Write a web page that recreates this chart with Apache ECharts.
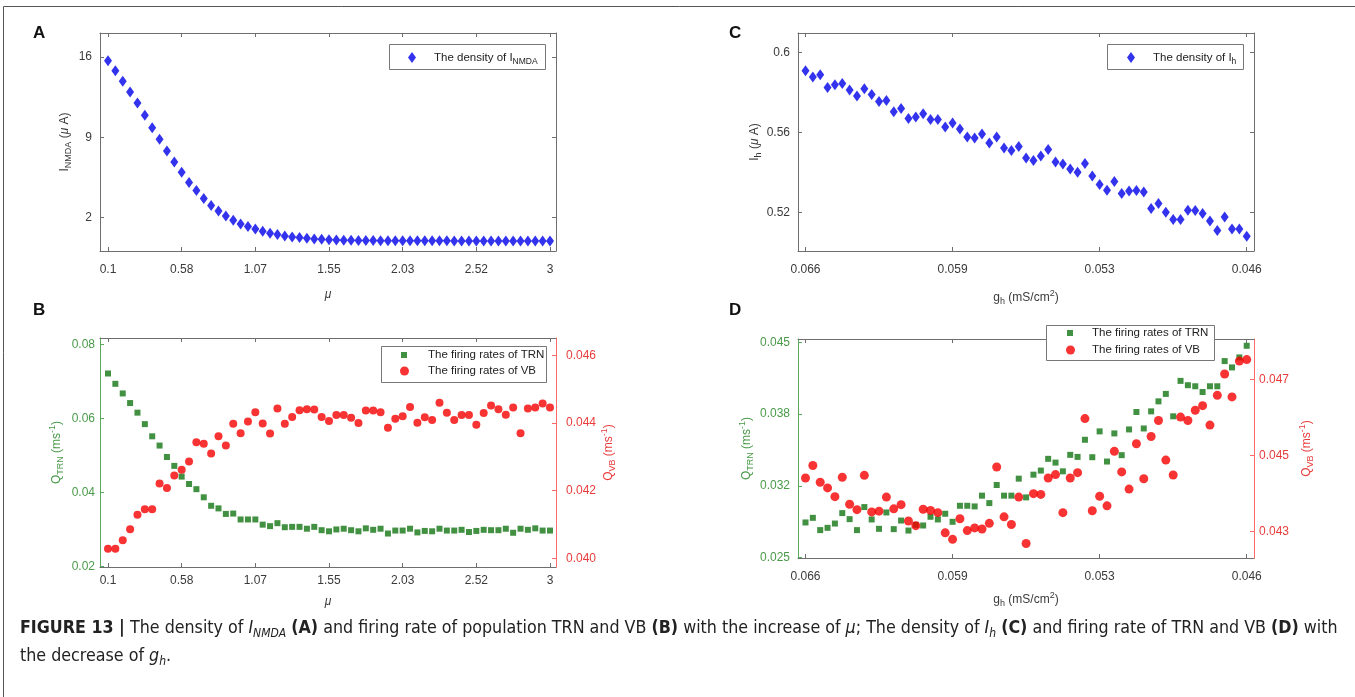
<!DOCTYPE html>
<html><head><meta charset="utf-8">
<script src="https://cdn.jsdelivr.net/npm/echarts@6/dist/echarts.min.js"></script>
<style>html,body{margin:0;padding:0;background:#fff}#c{width:1355px;height:697px}</style>
</head><body><div id="c"></div>
<script>
// ---------- DATA ----------
const mu = [0.1,0.1483,0.1967,0.245,0.2933,0.3417,0.39,0.4383,0.4867,0.535,
  0.5833,0.6317,0.68,0.7283,0.7767,0.825,0.8733,0.9217,0.97,1.0183,
  1.0667,1.115,1.1633,1.2117,1.26,1.3083,1.3567,1.405,1.4533,1.5017,
  1.55,1.5983,1.6467,1.695,1.7433,1.7917,1.84,1.8883,1.9367,1.985,
  2.0333,2.0817,2.13,2.1783,2.2267,2.275,2.3233,2.3717,2.42,2.4683,
  2.5167,2.565,2.6133,2.6617,2.71,2.7583,2.8067,2.855,2.9033,2.9517,3.0];
const muTicks = [0.1,0.5833,1.0667,1.55,2.0333,2.5167,3.0];
const muTickLabels = ['0.1','0.58','1.07','1.55','2.03','2.52','3'];

const iNMDA = [15.68,14.80,13.90,12.96,12.00,10.93,9.84,8.82,7.80,6.84,
  5.94,5.06,4.36,3.66,3.05,2.58,2.14,1.77,1.44,1.21,
  1.00,0.80,0.63,0.51,0.39,0.30,0.25,0.19,0.13,0.10,
  0.07,0.04,0.02,0.01,0.0,-0.01,-0.01,-0.02,-0.02,-0.02,
  -0.03,-0.03,-0.03,-0.03,-0.03,-0.03,-0.03,-0.04,-0.04,-0.04,
  -0.04,-0.04,-0.04,-0.04,-0.04,-0.04,-0.04,-0.04,-0.04,-0.04,-0.04];
const yTicksA = [2,9,16];
const yTickLabelsA = ['2','9','16'];

const qTRN_B = [0.0722,0.0694,0.0668,0.0642,0.0616,0.0585,0.0552,0.0527,0.0496,0.0472,
  0.0443,0.0423,0.0409,0.0387,0.0364,0.0357,0.0342,0.0343,0.0327,0.0327,
  0.0327,0.0313,0.0309,0.0317,0.0306,0.0307,0.0307,0.0302,0.0307,0.0298,
  0.0295,0.0300,0.0302,0.0298,0.0295,0.0303,0.0299,0.0302,0.0289,0.0297,
  0.0297,0.0302,0.0292,0.0296,0.0295,0.0302,0.0297,0.0297,0.0299,0.0293,
  0.0296,0.0299,0.0298,0.0298,0.0302,0.0291,0.0302,0.0299,0.0303,0.0297,0.0297];
const qVB_B = [0.04028,0.04028,0.04053,0.04086,0.04129,0.04145,0.04145,0.04221,0.04208,0.04245,
  0.04262,0.04286,0.04343,0.04339,0.04310,0.04361,0.04334,0.04398,0.04370,0.04405,
  0.04432,0.04399,0.04369,0.04443,0.04398,0.04418,0.04438,0.04441,0.04440,0.04418,
  0.04406,0.04424,0.04424,0.04416,0.04400,0.04437,0.04437,0.04432,0.04386,0.04413,
  0.04420,0.04448,0.04401,0.04417,0.04409,0.04460,0.04431,0.04409,0.04424,0.04424,
  0.04395,0.04430,0.04452,0.04441,0.04425,0.04446,0.04370,0.04443,0.04446,0.04458,0.04446];
const yTicksBL = [0.02,0.04,0.06,0.08];
const yTickLabelsBL = ['0.02','0.04','0.06','0.08'];
const yTicksBR = [0.040,0.042,0.044,0.046];
const yTickLabelsBR = ['0.040','0.042','0.044','0.046'];

const gh = [0.066,0.065667,0.065333,0.065,0.064667,0.064333,0.064,0.063667,0.063333,0.063,
  0.062667,0.062333,0.062,0.061667,0.061333,0.061,0.060667,0.060333,0.06,0.059667,
  0.059333,0.059,0.058667,0.058333,0.058,0.057667,0.057333,0.057,0.056667,0.056333,
  0.056,0.055667,0.055333,0.055,0.054667,0.054333,0.054,0.053667,0.053333,0.053,
  0.052667,0.052333,0.052,0.051667,0.051333,0.051,0.050667,0.050333,0.05,0.049667,
  0.049333,0.049,0.048667,0.048333,0.048,0.047667,0.047333,0.047,0.046667,0.046333,0.046];
const ghTicks = [0.066,0.059333,0.052667,0.046];
const ghTickLabels = ['0.066','0.059','0.053','0.046'];

const iH = [0.5908,0.5877,0.5888,0.5825,0.5838,0.5845,0.5812,0.5782,0.5818,0.5790,
  0.5755,0.5760,0.5703,0.5720,0.5670,0.5677,0.5693,0.5665,0.5665,0.5628,
  0.5648,0.5617,0.5577,0.5572,0.5592,0.5547,0.5577,0.5523,0.5510,0.5530,
  0.5472,0.5460,0.5482,0.5515,0.5452,0.5443,0.5418,0.5402,0.5445,0.5383,
  0.5340,0.5312,0.5355,0.5295,0.5308,0.5310,0.5303,0.5220,0.5245,0.5202,
  0.5165,0.5165,0.5212,0.5210,0.5195,0.5158,0.5110,0.5178,0.5118,0.5118,0.5082];
const yTicksC = [0.52,0.56,0.6];
const yTickLabelsC = ['0.52','0.56','0.6'];

const qTRN_D = [0.02827,0.02870,0.02756,0.02777,0.02817,0.02914,0.02858,0.02756,0.02970,0.02855,
  0.02768,0.02920,0.02765,0.02845,0.02752,0.02805,0.02799,0.02880,0.02855,0.02908,
  0.02833,0.02982,0.02982,0.02976,0.03076,0.03007,0.03175,0.03076,0.03076,0.03234,
  0.03060,0.03271,0.03309,0.03418,0.03383,0.03302,0.03455,0.03436,0.03595,0.03433,
  0.03673,0.03393,0.03654,0.03452,0.03691,0.03853,0.03700,0.03859,0.03952,0.04021,
  0.03813,0.04142,0.04102,0.04092,0.04039,0.04092,0.04092,0.04326,0.04267,0.04360,0.04468];
const qVB_D = [0.04441,0.04474,0.04430,0.04415,0.04392,0.04443,0.04372,0.04358,0.04448,0.04352,
  0.04354,0.04391,0.04360,0.04371,0.04328,0.04316,0.04359,0.04356,0.04350,0.04297,
  0.04280,0.04334,0.04303,0.04310,0.04307,0.04322,0.04470,0.04339,0.04319,0.04391,
  0.04269,0.04400,0.04398,0.04441,0.04450,0.04350,0.04441,0.04455,0.04597,0.04355,
  0.04393,0.04368,0.04511,0.04457,0.04412,0.04531,0.04439,0.04550,0.04592,0.04488,
  0.04449,0.04601,0.04592,0.04619,0.04631,0.04580,0.04658,0.04714,0.04654,0.04748,0.04752];
const yTicksDL = [0.025,0.031667,0.038333,0.045];
const yTickLabelsDL = ['0.025','0.032','0.038','0.045'];
const yTicksDR = [0.043,0.045,0.047];
const yTickLabelsDR = ['0.043','0.045','0.047'];

// ---------- STYLE ----------
const FONT = "'Liberation Sans', Arial, sans-serif";
const CAPFONT = "'Liberation Sans Narrow', 'DejaVu Sans Condensed', sans-serif";
const GRAY = '#6e6e6e', TXT = '#3a3a3a';
const GREEN_AX = '#5aa85a', GREEN_TX = '#4a9a4a', GREEN_MK = '#137513';
const RED_AX = '#ff6b6b', RED_TX = '#e83c3c', RED_MK = '#f50000';
const BLUE = '#0000e8';

function richSet(color) {
  return {
    m: {fontSize: 12, lineHeight: 14, color, fontFamily: FONT},
    i: {fontSize: 12, lineHeight: 14, color, fontFamily: FONT, fontStyle: 'italic'},
    s: {fontSize: 9, lineHeight: 9, padding: [8,0,0,0], color, fontFamily: FONT},
    p: {fontSize: 9, lineHeight: 9, padding: [0,0,8,0], color, fontFamily: FONT}
  };
}
function fmt(ticks, labels) {
  return v => { for (let k = 0; k < ticks.length; k++) if (Math.abs(v - ticks[k]) < 1e-6) return labels[k]; return ''; };
}
function xPair(g, min, max, ticks, labels, inv, name, gap, margin) {
  const base = {type: 'value', gridIndex: g, min, max, inverse: inv, splitLine: {show: false},
    axisLine: {onZero: false, lineStyle: {color: GRAY, width: 1}},
    axisTick: {inside: true, length: 4, customValues: ticks, lineStyle: {color: GRAY}}};
  return [
    Object.assign({}, base, {position: 'bottom',
      axisLabel: {customValues: ticks, formatter: fmt(ticks, labels), color: TXT, fontSize: 12, margin, fontFamily: FONT},
      name, nameLocation: 'middle', nameGap: gap, nameTextStyle: {rich: richSet(TXT)}}),
    Object.assign({}, base, {position: 'top', axisLabel: {show: false}})
  ];
}
function yAxisDef(g, pos, min, max, ticks, labels, lineCol, txtCol, showLabel, name, gap, margin) {
  return {type: 'value', gridIndex: g, position: pos, min, max, splitLine: {show: false},
    axisLine: {onZero: false, lineStyle: {color: lineCol, width: 1}},
    axisTick: {inside: true, length: 4, customValues: ticks, lineStyle: {color: lineCol}},
    axisLabel: showLabel ? {customValues: ticks, formatter: fmt(ticks, labels), color: txtCol, fontSize: 12, margin, fontFamily: FONT} : {show: false},
    name: name || '', nameLocation: 'middle', nameGap: gap || 0, nameTextStyle: {rich: richSet(txtCol)}};
}
const pairs = (xs, ys) => xs.map((x, k) => [x, ys[k]]);

const grids = [
  {left: 100, top: 33, width: 456, height: 218},
  {left: 100, top: 338, width: 456, height: 229},
  {left: 798, top: 33, width: 456, height: 218},
  {left: 798, top: 339, width: 456, height: 219}
];

const xAxis = [].concat(
  xPair(0, 0.0475, 3.0394, muTicks, muTickLabels, false, '{i|μ}', 37, 13),
  xPair(1, 0.0475, 3.0394, muTicks, muTickLabels, false, '{i|μ}', 28, 8),
  xPair(2, 0.04567, 0.06634, ghTicks, ghTickLabels, true, '{m|g}{s|h}{m| (mS/cm}{p|2}{m|)}', 40, 13),
  xPair(3, 0.04567, 0.06634, ghTicks, ghTickLabels, true, '{m|g}{s|h}{m| (mS/cm}{p|2}{m|)}', 35, 13)
);
const yAxis = [
  yAxisDef(0, 'left', -0.92, 18.1, yTicksA, yTickLabelsA, GRAY, TXT, true, '{m|I}{s|NMDA}{m| (}{i|μ}{m| A)}', 28, 8),
  yAxisDef(0, 'right', -0.92, 18.1, yTicksA, yTickLabelsA, GRAY, TXT, false),
  yAxisDef(1, 'left', 0.01984, 0.0818, yTicksBL, yTickLabelsBL, GREEN_AX, GREEN_TX, true, '{m|Q}{s|TRN}{m| (ms}{p|-1}{m|)}', 36, 5),
  yAxisDef(1, 'right', 0.03974, 0.04652, yTicksBR, yTickLabelsBR, RED_AX, RED_TX, true, '{m|Q}{s|VB}{m| (ms}{p|-1}{m|)}', 32, 10),
  yAxisDef(2, 'left', 0.5008, 0.6097, yTicksC, yTickLabelsC, GRAY, TXT, true, '{m|I}{s|h}{m| (}{i|μ}{m| A)}', 34, 8),
  yAxisDef(2, 'right', 0.5008, 0.6097, yTicksC, yTickLabelsC, GRAY, TXT, false),
  yAxisDef(3, 'left', 0.02497, 0.04531, yTicksDL, yTickLabelsDL, GREEN_AX, GREEN_TX, true, '{m|Q}{s|TRN}{m| (ms}{p|-1}{m|)}', 44, 8),
  yAxisDef(3, 'right', 0.04231, 0.04806, yTicksDR, yTickLabelsDR, RED_AX, RED_TX, true, '{m|Q}{s|VB}{m| (ms}{p|-1}{m|)}', 46, 5)
];

const series = [
  {name: 'A', type: 'scatter', xAxisIndex: 0, yAxisIndex: 0, symbol: 'diamond', symbolSize: [8, 11], itemStyle: {color: BLUE}, data: pairs(mu, iNMDA), z: 3},
  {name: 'TRN_B', type: 'scatter', xAxisIndex: 2, yAxisIndex: 2, symbol: 'rect', symbolSize: 6, itemStyle: {color: GREEN_MK}, data: pairs(mu, qTRN_B)},
  {name: 'VB_B', type: 'scatter', xAxisIndex: 2, yAxisIndex: 3, symbol: 'circle', symbolSize: 8, itemStyle: {color: RED_MK}, data: pairs(mu, qVB_B)},
  {name: 'C', type: 'scatter', xAxisIndex: 4, yAxisIndex: 4, symbol: 'diamond', symbolSize: [8, 11], itemStyle: {color: BLUE}, data: pairs(gh, iH)},
  {name: 'TRN_D', type: 'scatter', xAxisIndex: 6, yAxisIndex: 6, symbol: 'rect', symbolSize: 6, itemStyle: {color: GREEN_MK}, data: pairs(gh, qTRN_D)},
  {name: 'VB_D', type: 'scatter', xAxisIndex: 6, yAxisIndex: 7, symbol: 'circle', symbolSize: 9, itemStyle: {color: RED_MK}, data: pairs(gh, qVB_D)}
];
series.forEach(s => { s.emphasis = {disabled: true}; s.animation = false; });

const legendLabels = {
  A: '{a|The density of I}{s|NMDA}',
  C: '{a|The density of I}{s|h}',
  TRN_B: '{a|The firing rates of TRN}',
  VB_B: '{a|The firing rates of VB}',
  TRN_D: '{a|The firing rates of TRN}',
  VB_D: '{a|The firing rates of VB}'
};
function legend(name, left, cy, iw, ih, textX) {
  const pad = textX - (left + iw + 5);
  return {data: [name], left, top: cy - 8, padding: 0, itemWidth: iw, itemHeight: ih, z: 30,
    selectedMode: false, formatter: n => legendLabels[n],
    textStyle: {rich: {
      a: {fontSize: 11.5, lineHeight: 14, color: '#222', fontFamily: FONT, padding: [0,0,0,pad]},
      s: {fontSize: 8.5, lineHeight: 8, padding: [8,0,0,0], color: '#222', fontFamily: FONT}
    }}};
}
const legends = [
  legend('A', 408, 57, 8, 11, 434),
  legend('TRN_B', 401, 357, 6, 6, 428),
  legend('VB_B', 400, 373, 9, 9, 428),
  legend('C', 1127, 57, 8, 11, 1153),
  legend('TRN_D', 1067, 335, 6, 6, 1092),
  legend('VB_D', 1066, 352, 9, 9, 1092)
];

const boxStyle = {fill: '#fff', stroke: '#777', lineWidth: 1};
const CS = 17.7;
const capRich = {
  n: {fontSize: CS, fontFamily: CAPFONT, fill: '#222', lineHeight: 20},
  b: {fontSize: CS, fontFamily: CAPFONT, fontWeight: 'bold', fill: '#222', lineHeight: 20},
  i: {fontSize: CS, fontFamily: CAPFONT, fontStyle: 'italic', fill: '#222', lineHeight: 20},
  s: {fontSize: 12, fontFamily: CAPFONT, fontStyle: 'italic', fill: '#222', lineHeight: 12, padding: [11,0,0,0]}
};
const graphic = [
  {type: 'rect', shape: {x: 3.5, y: 6.5, width: 1400, height: 720}, style: {fill: 'none', stroke: '#555', lineWidth: 1}, z: 1, silent: true},
  {type: 'rect', shape: {x: 389.5, y: 44.5, width: 156, height: 25}, style: boxStyle, z: 20, silent: true},
  {type: 'rect', shape: {x: 381.5, y: 346.5, width: 165, height: 36}, style: boxStyle, z: 20, silent: true},
  {type: 'rect', shape: {x: 1107.5, y: 44.5, width: 136, height: 25}, style: boxStyle, z: 20, silent: true},
  {type: 'rect', shape: {x: 1046.5, y: 325.5, width: 168, height: 35}, style: boxStyle, z: 20, silent: true},
  {type: 'text', left: 33, top: 25, style: {text: 'A', font: "bold 17px 'Liberation Sans', Arial, sans-serif", fill: '#111'}, silent: true},
  {type: 'text', left: 33, top: 302, style: {text: 'B', font: "bold 17px 'Liberation Sans', Arial, sans-serif", fill: '#111'}, silent: true},
  {type: 'text', left: 729, top: 25, style: {text: 'C', font: "bold 17px 'Liberation Sans', Arial, sans-serif", fill: '#111'}, silent: true},
  {type: 'text', left: 729, top: 302, style: {text: 'D', font: "bold 17px 'Liberation Sans', Arial, sans-serif", fill: '#111'}, silent: true},
  {type: 'text', left: 20, top: 617, silent: true, style: {
    text: '{b|FIGURE 13 |}{n| The density of }{i|I}{s|NMDA}{n| }{b|(A)}{n| and firing rate of population TRN and VB }{b|(B)}{n| with the increase of }{i|μ}{n|; The density of }{i|I}{s|h}{n| }{b|(C)}{n| and firing rate of TRN and VB }{b|(D)}{n| with}',
    rich: capRich}},
  {type: 'text', left: 20, top: 645, silent: true, style: {
    text: '{n|the decrease of }{i|g}{s|h}{n|.}', rich: capRich}}
];

const chart = echarts.init(document.getElementById('c'), null, {renderer: 'canvas'});
chart.setOption({
  animation: false,
  backgroundColor: '#fff',
  textStyle: {fontFamily: FONT},
  grid: grids,
  xAxis, yAxis, series,
  legend: legends,
  graphic
});
</script></body></html>
